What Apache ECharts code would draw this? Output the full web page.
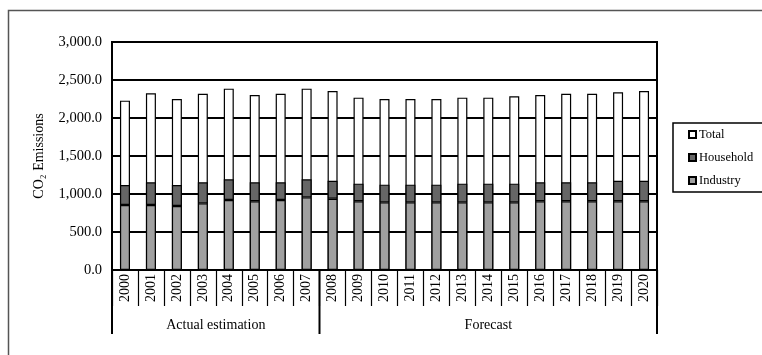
<!DOCTYPE html>
<html>
<head>
<meta charset="utf-8">
<script src="https://cdn.jsdelivr.net/npm/echarts@6/dist/echarts.min.js"></script>
<style>
  html, body { margin: 0; padding: 0; background: #fff; }
  #chart { width: 762px; height: 355px; }
</style>
</head>
<body>
<div id="chart"></div>
<script>
// CO2 emissions by sector, actual estimation 2000-2007 and forecast 2008-2020
const years = ['2000','2001','2002','2003','2004','2005','2006','2007','2008','2009','2010',
               '2011','2012','2013','2014','2015','2016','2017','2018','2019','2020'];
const industry  = [855, 855, 842, 877, 921, 904, 921, 956, 938, 904, 890, 890, 890, 890, 890, 890, 904, 904, 904, 904, 904];
const household = [263, 299, 276, 277, 272, 250, 233, 237, 237, 232, 233, 233, 233, 246, 246, 246, 250, 250, 250, 271, 271];
const total     = [2228, 2325, 2250, 2320, 2386, 2303, 2320, 2386, 2355, 2268, 2250, 2250, 2250, 2268, 2268, 2285, 2303, 2320, 2320, 2338, 2355];
const yTicks = [0, 500, 1000, 1500, 2000, 2500, 3000];
const groups = [
  { name: 'Actual estimation', from: '2000', to: '2007' },
  { name: 'Forecast', from: '2008', to: '2020' }
];

const FONT = "'Liberation Serif', 'Times New Roman', serif";
const chart = echarts.init(document.getElementById('chart'), null, { renderer: 'canvas' });

const fmt = v => v.toLocaleString('en-US', { minimumFractionDigits: 1, maximumFractionDigits: 1 });

chart.setOption({
  animation: false,
  backgroundColor: '#fff',
  textStyle: { fontFamily: FONT, color: '#000' },
  grid: {
    left: 112, right: 105, top: 42, bottom: 85,
    show: true, borderColor: '#000', borderWidth: 2, backgroundColor: 'transparent'
  },
  legend: {
    orient: 'vertical',
    left: 673, top: 123,
    data: ['Total', 'Household', 'Industry'],
    icon: 'rect',
    itemWidth: 7, itemHeight: 7, itemGap: 10,
    padding: [5, 40, 5, 15],
    borderColor: '#000', borderWidth: 1.5,
    backgroundColor: '#fff',
    textStyle: { fontFamily: FONT, fontSize: 12.5, color: '#000', padding: [0, 0, 0, -2] },
    selectedMode: false
  },
  xAxis: {
    type: 'category',
    data: years,
    boundaryGap: true,
    axisLine: { show: true, lineStyle: { color: '#000', width: 2 } },
    axisTick: { show: true, length: 36, interval: 0, lineStyle: { color: '#000', width: 1.2 } },
    axisLabel: {
      interval: 0, rotate: 90, margin: 4,
      fontFamily: FONT, fontSize: 14, color: '#000'
    }
  },
  yAxis: {
    type: 'value',
    min: yTicks[0], max: yTicks[yTicks.length - 1], interval: 500,
    name: 'CO\u2082 Emissions',
    nameLocation: 'middle', nameGap: 66, nameRotate: 90,
    nameTextStyle: { fontFamily: FONT, fontSize: 14, color: '#000' },
    axisLine: { show: true, lineStyle: { color: '#000', width: 2 } },
    axisTick: { show: false },
    axisLabel: { formatter: fmt, margin: 10, fontFamily: FONT, fontSize: 14.5, color: '#000' },
    splitLine: { show: true, lineStyle: { color: '#000', width: 2 } }
  },
  series: [
    {
      name: 'Total', type: 'bar', data: total,
      barWidth: 10, barGap: '-100%',
      itemStyle: { color: '#ffffff', borderColor: '#000', borderWidth: 1.2 }
    },
    {
      name: 'Industry', type: 'bar', stack: 'sector', data: industry,
      barWidth: 10,
      itemStyle: { color: '#a0a0a0', borderColor: '#000', borderWidth: 1.2 }
    },
    {
      name: 'Household', type: 'bar', stack: 'sector', data: household,
      barWidth: 10,
      itemStyle: { color: '#666666', borderColor: '#000', borderWidth: 1.2 }
    }
  ]
});

// Group bands under the year labels: dividers and captions placed from the axis scale
function drawGroups() {
  const px = c => chart.convertToPixel({ xAxisIndex: 0 }, c);
  const band = px(years[1]) - px(years[0]);
  const y0 = chart.convertToPixel({ yAxisIndex: 0 }, 0);
  const elements = [];
  const edges = new Set();
  groups.forEach(g => {
    const l = px(g.from) - band / 2;
    const r = px(g.to) + band / 2;
    edges.add(Math.round(l * 2) / 2);
    edges.add(Math.round(r * 2) / 2);
    elements.push({
      type: 'text', silent: true,
      style: {
        x: (l + r) / 2, y: y0 + 55,
        text: g.name, fontFamily: FONT, fontSize: 14, fill: '#000',
        align: 'center', verticalAlign: 'middle'
      }
    });
  });
  edges.forEach(x => {
    elements.push({
      type: 'line', silent: true,
      shape: { x1: x, y1: y0, x2: x, y2: y0 + 64 },
      style: { stroke: '#000', lineWidth: 2 }
    });
  });
  // frame around the whole chart area
  elements.push({
    type: 'rect', silent: true, z: -1,
    shape: { x: 8.5, y: 10.5, width: 800, height: 400 },
    style: { fill: null, stroke: '#555', lineWidth: 1.5 }
  });
  chart.setOption({ graphic: elements });
}
drawGroups();
</script>
</body>
</html>
